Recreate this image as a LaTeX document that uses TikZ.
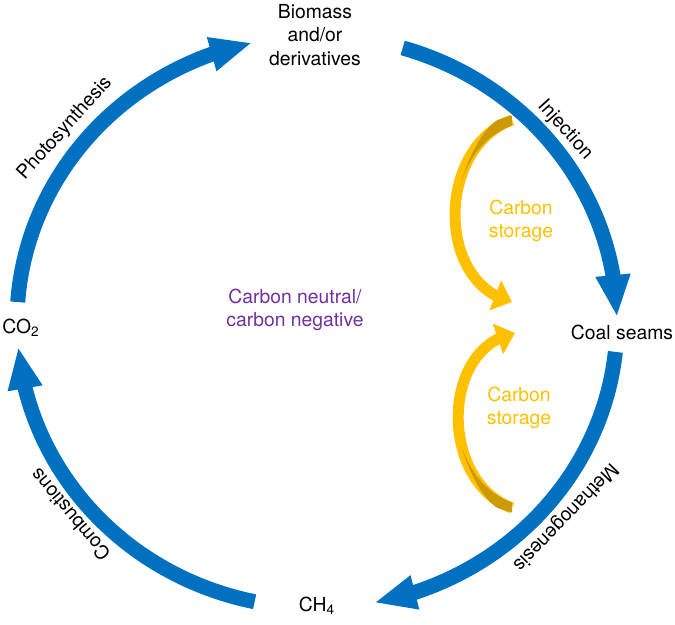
\documentclass[tikz,border=0pt]{standalone}
\usepackage{fontspec}
\setmainfont{TeX Gyre Heros}
\usetikzlibrary{arrows.meta,bending,positioning}
\definecolor{cycleblue}{HTML}{0070C0}
\definecolor{storeyellow}{HTML}{FFC000}
\definecolor{storedark}{HTML}{CC9A06}
\definecolor{neutralpurple}{HTML}{7030A0}

\begin{document}
\begin{tikzpicture}[
  font=\fontsize{11}{13.5}\selectfont,
  >=Triangle,
  stage/.style={align=center, inner sep=1pt},
  process/.style={inner sep=1pt},
  flow/.style={draw=cycleblue, line width=0.3cm, -{Triangle[length=0.84cm, width=0.64cm]}},
  storage/.style={draw=storeyellow, line width=0.22cm, -{Triangle[length=0.36cm, width=0.62cm]}},
  storenote/.style={align=center, text=storeyellow},
]
\useasboundingbox (0,0) rectangle (13.5,12.5);

% Ellipse of the cycle
\def\rx{6}
\def\ry{5.72}
\coordinate (c) at (6.34, 6.06);

% Stages
\node[stage] (biomass) at (6.3, 11.8) {Biomass\\and/or\\derivatives};
\node[stage] (coal) at (12.44, 5.86) {Coal seams};
\node[stage] (ch4) at (6.34, 0.38) {CH\textsubscript{4}};
\node[stage] (co2) at (0.42, 5.94) {CO\textsubscript{2}};
\node[stage, text=neutralpurple] (neutral) at (5.9, 6.3) {Carbon neutral/\\carbon negative};

% ========== Blue cycle ==========
\path (c) ++(176:\rx cm and \ry cm) coordinate (photo_start);
\path (c) ++(73.4:\rx cm and \ry cm) coordinate (inject_start);
\path (c) ++(-6:\rx cm and \ry cm) coordinate (methano_start);
\path (c) ++(258:\rx cm and \ry cm) coordinate (combust_start);

\draw[flow] (photo_start) arc[start angle=176, end angle=102.5, x radius=\rx cm, y radius=\ry cm];
\draw[flow] (inject_start) arc[start angle=73.4, end angle=1, x radius=\rx cm, y radius=\ry cm];
\draw[flow] (methano_start) arc[start angle=-6, end angle=-79, x radius=\rx cm, y radius=\ry cm];
\draw[flow] (combust_start) arc[start angle=258, end angle=185, x radius=\rx cm, y radius=\ry cm];

\node[process, rotate=48] (photo) at (1.3, 9.93) {Photosynthesis};
\node[process, rotate=-48] (inject) at (11.3, 9.9) {Injection};
\node[process, rotate=-134] (methano) at (11.3, 2.16) {Methanogenesis};
\node[process, rotate=130] (combust) at (1.4, 2.2) {Combustions};

% ========== Carbon storage ==========
\coordinate (up_tail) at (10.24, 10.1);
\coordinate (up_tip) at (10.24, 6.46);
\coordinate (down_tail) at (10.24, 2.34);
\coordinate (down_tip) at (10.3, 5.84);

\draw[storage] (up_tail) to[out=200, in=166, looseness=1.12] (up_tip);
\draw[storage] (down_tail) to[out=160, in=191, looseness=1.12] (down_tip);
% twisted tails
\fill[storedark] (10.24,10.19) -- (10.24,9.99) .. controls (9.8,9.82) and (9.45,9.5) .. (9.22,8.85) .. controls (9.45,9.6) and (9.75,9.98) .. (9.95,10.1) -- cycle;
\fill[storedark] (10.24,2.25) -- (10.24,2.45) .. controls (9.8,2.62) and (9.45,2.94) .. (9.22,3.59) .. controls (9.45,2.84) and (9.75,2.46) .. (9.95,2.34) -- cycle;

\node[storenote] (store_up) at (10.42, 8.08) {Carbon\\storage};
\node[storenote] (store_down) at (10.38, 4.34) {Carbon\\storage};

\end{tikzpicture}
\end{document}
